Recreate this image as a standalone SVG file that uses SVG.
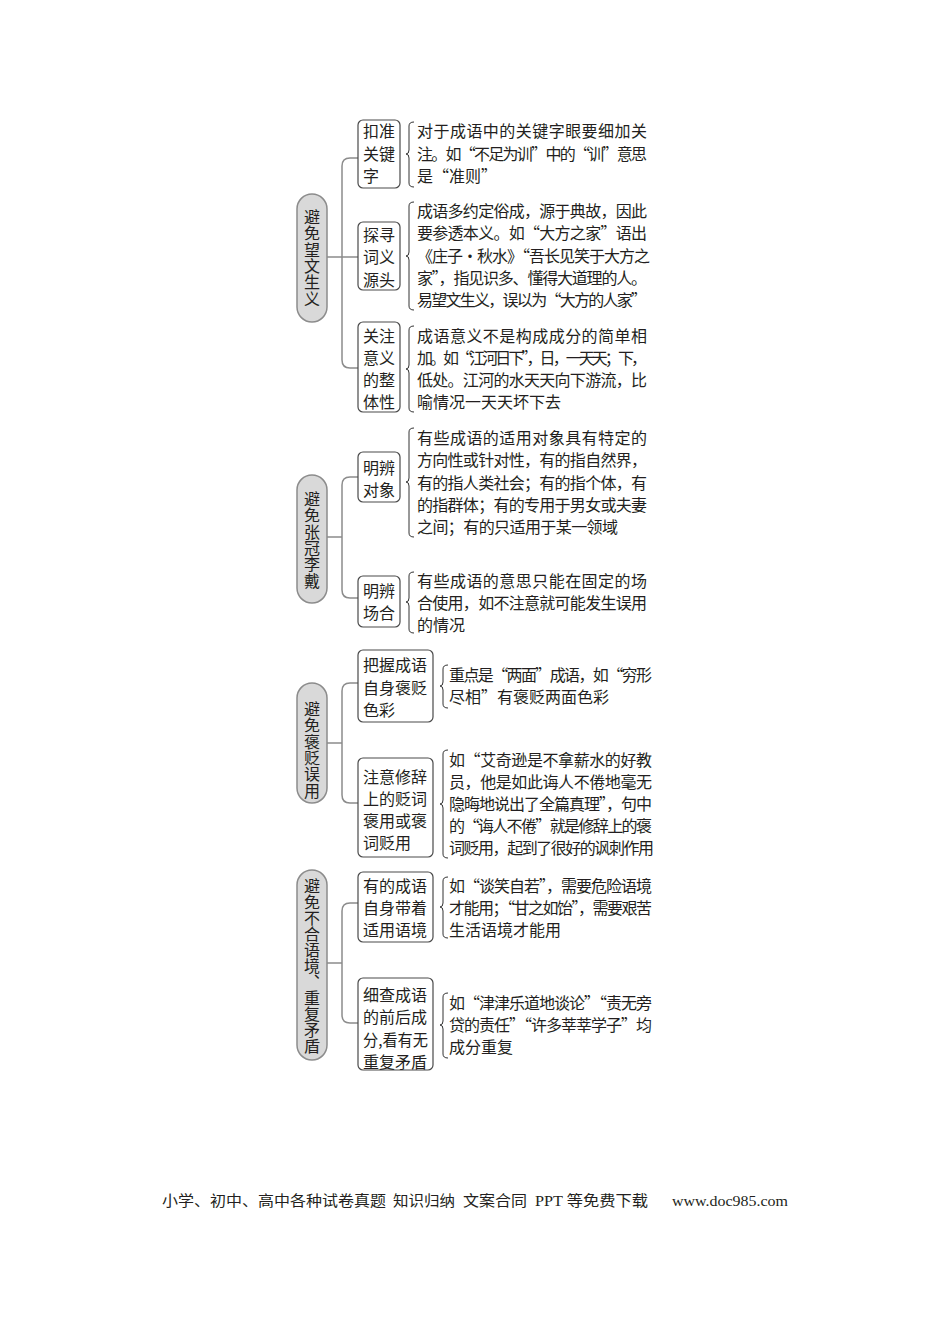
<svg xmlns="http://www.w3.org/2000/svg" width="950" height="1344" viewBox="0 0 950 1344">
<style>
.t{font-family:"Noto Sans CJK SC","Noto Sans",sans-serif;font-size:16px;fill:#231f20}
.pt{font-family:"Noto Sans CJK SC","Noto Sans",sans-serif;font-size:16px;fill:#231f20;writing-mode:vertical-rl;text-anchor:middle}
.pill{fill:#d9d9d9;stroke:#8c8c8c;stroke-width:1.5}
.box{fill:#fff;stroke:#4a4a4a;stroke-width:1.2}
.con{fill:none;stroke:#8c8c8c;stroke-width:1.5}
.br{fill:none;stroke:#333;stroke-width:1}
.ft{font-family:"Liberation Serif","Noto Sans CJK SC",serif;font-size:15px;fill:#231f20}
</style>
<rect width="950" height="1344" fill="#fff"/>
<g id="connectors">
<path class="con" d="M327,257 H342 M358,158 H350 Q342,158 342,166 V360 Q342,368 350,368 H358 M342,257 H358"/>
<path class="con" d="M327,537 H342 M358,477 H350 Q342,477 342,485 V590 Q342,598 350,598 H358"/>
<path class="con" d="M327,743 H342 M358,683 H350 Q342,683 342,691 V795 Q342,803 350,803 H358"/>
<path class="con" d="M327,963 H342 M358,903 H350 Q342,903 342,911 V1015 Q342,1023 350,1023 H358"/>
</g>
<g id="braces">
<path class="br" d="M414,122 Q409,122 409,126 L409,150 Q409,154 406,154 Q409,154 409,158 L409,183 Q409,187 414,187"/>
<path class="br" d="M414,202 Q409,202 409,206 L409,252 Q409,256 406,256 Q409,256 409,260 L409,306 Q409,310 414,310"/>
<path class="br" d="M414,326 Q409,326 409,330 L409,365 Q409,369 406,369 Q409,369 409,373 L409,408 Q409,412 414,412"/>
<path class="br" d="M414,428 Q409,428 409,432 L409,478 Q409,482 406,482 Q409,482 409,486 L409,533 Q409,537 414,537"/>
<path class="br" d="M414,572 Q409,572 409,576 L409,598 Q409,602 406,602 Q409,602 409,606 L409,629 Q409,633 414,633"/>
<path class="br" d="M448,665 Q443,665 443,669 L443,682 Q443,686 440,686 Q443,686 443,690 L443,704 Q443,708 448,708"/>
<path class="br" d="M448,750 Q443,750 443,754 L443,800 Q443,804 440,804 Q443,804 443,808 L443,854 Q443,858 448,858"/>
<path class="br" d="M448,877 Q443,877 443,881 L443,903 Q443,907 440,907 Q443,907 443,911 L443,934 Q443,938 448,938"/>
<path class="br" d="M448,993 Q443,993 443,997 L443,1021 Q443,1025 440,1025 Q443,1025 443,1029 L443,1054 Q443,1058 448,1058"/>
</g>
<g id="root1">
<rect class="pill" x="297" y="194" width="30" height="128" rx="15"/>
<text class="pt" x="312" y="258" letter-spacing="0.4">避免望文生义</text>
</g>
<g id="n1a">
<rect class="box" x="358" y="120" width="42" height="68" rx="5"/>
<text class="t" x="363" y="137">扣准</text><text class="t" x="363" y="160">关键</text><text class="t" x="363" y="182">字</text>
<text class="t" x="417" y="137" textLength="230" lengthAdjust="spacing">对于成语中的关键字眼要细加关</text>
<text class="t" x="417" y="160" textLength="230" lengthAdjust="spacing">注。如“不足为训”中的“训”意思</text>
<text class="t" x="417" y="182">是“准则”</text>
</g>
<g id="n1b">
<rect class="box" x="358" y="222" width="42" height="68" rx="5"/>
<text class="t" x="363" y="241">探寻</text><text class="t" x="363" y="263">词义</text><text class="t" x="363" y="286">源头</text>
<text class="t" x="417" y="217" textLength="230" lengthAdjust="spacing">成语多约定俗成，源于典故，因此</text>
<text class="t" x="417" y="239" textLength="230" lengthAdjust="spacing">要参透本义。如“大方之家”语出</text>
<text class="t" x="417" y="262" textLength="233" lengthAdjust="spacing">《庄子·秋水》“吾长见笑于大方之</text>
<text class="t" x="417" y="284" textLength="230" lengthAdjust="spacing">家”，指见识多、懂得大道理的人。</text>
<text class="t" x="417" y="306" textLength="230" lengthAdjust="spacing">易望文生义，误以为“大方的人家”</text>
</g>
<g id="n1c">
<rect class="box" x="358" y="322" width="42" height="90" rx="5"/>
<text class="t" x="363" y="342">关注</text><text class="t" x="363" y="364">意义</text><text class="t" x="363" y="386">的整</text><text class="t" x="363" y="408">体性</text>
<text class="t" x="417" y="342" textLength="230" lengthAdjust="spacing">成语意义不是构成成分的简单相</text>
<text class="t" x="417" y="364" textLength="230" lengthAdjust="spacing">加。如“江河日下”，日，一天天；下，</text>
<text class="t" x="417" y="386" textLength="230" lengthAdjust="spacing">低处。江河的水天天向下游流，比</text>
<text class="t" x="417" y="408">喻情况一天天坏下去</text>
</g>
<g id="root2">
<rect class="pill" x="297" y="475" width="30" height="128" rx="15"/>
<text class="pt" x="312" y="540" letter-spacing="0.4">避免张冠李戴</text>
</g>
<g id="n2a">
<rect class="box" x="358" y="452" width="42" height="50" rx="5"/>
<text class="t" x="363" y="474">明辨</text><text class="t" x="363" y="496">对象</text>
<text class="t" x="417" y="444" textLength="230" lengthAdjust="spacing">有些成语的适用对象具有特定的</text>
<text class="t" x="417" y="466" textLength="230" lengthAdjust="spacing">方向性或针对性，有的指自然界，</text>
<text class="t" x="417" y="489" textLength="230" lengthAdjust="spacing">有的指人类社会；有的指个体，有</text>
<text class="t" x="417" y="511" textLength="230" lengthAdjust="spacing">的指群体；有的专用于男女或夫妻</text>
<text class="t" x="417" y="533" textLength="201" lengthAdjust="spacing">之间；有的只适用于某一领域</text>
</g>
<g id="n2b">
<rect class="box" x="358" y="576" width="42" height="51" rx="5"/>
<text class="t" x="363" y="597">明辨</text><text class="t" x="363" y="619">场合</text>
<text class="t" x="417" y="587" textLength="230" lengthAdjust="spacing">有些成语的意思只能在固定的场</text>
<text class="t" x="417" y="609" textLength="230" lengthAdjust="spacing">合使用，如不注意就可能发生误用</text>
<text class="t" x="417" y="631">的情况</text>
</g>
<g id="root3">
<rect class="pill" x="297" y="683" width="30" height="120" rx="15"/>
<text class="pt" x="312" y="750" letter-spacing="0.4">避免褒贬误用</text>
</g>
<g id="n3a">
<rect class="box" x="358" y="650" width="75" height="72" rx="5"/>
<text class="t" x="363" y="671">把握成语</text><text class="t" x="363" y="694">自身褒贬</text><text class="t" x="363" y="716">色彩</text>
<text class="t" x="449" y="681" textLength="203" lengthAdjust="spacing">重点是“两面”成语，如“穷形</text>
<text class="t" x="449" y="703">尽相”有褒贬两面色彩</text>
</g>
<g id="n3b">
<rect class="box" x="358" y="758" width="75" height="99" rx="5"/>
<text class="t" x="363" y="783">注意修辞</text><text class="t" x="363" y="805">上的贬词</text><text class="t" x="363" y="827">褒用或褒</text><text class="t" x="363" y="849">词贬用</text>
<text class="t" x="449" y="766" textLength="203" lengthAdjust="spacing">如“艾奇逊是不拿薪水的好教</text>
<text class="t" x="449" y="788" textLength="203" lengthAdjust="spacing">员，他是如此诲人不倦地毫无</text>
<text class="t" x="449" y="810" textLength="203" lengthAdjust="spacing">隐晦地说出了全篇真理”，句中</text>
<text class="t" x="449" y="832" textLength="203" lengthAdjust="spacing">的“诲人不倦”就是修辞上的褒</text>
<text class="t" x="449" y="854" textLength="205" lengthAdjust="spacing">词贬用，起到了很好的讽刺作用</text>
</g>
<g id="root4">
<rect class="pill" x="297" y="870" width="30" height="190" rx="15"/>
<text class="pt" x="312" y="966" letter-spacing="0">避免不合语境、重复矛盾</text>
</g>
<g id="n4a">
<rect class="box" x="358" y="872" width="75" height="70" rx="5"/>
<text class="t" x="363" y="892">有的成语</text><text class="t" x="363" y="914">自身带着</text><text class="t" x="363" y="936">适用语境</text>
<text class="t" x="449" y="892" textLength="203" lengthAdjust="spacing">如“谈笑自若”，需要危险语境</text>
<text class="t" x="449" y="914" textLength="203" lengthAdjust="spacing">才能用；“甘之如饴”，需要艰苦</text>
<text class="t" x="449" y="936">生活语境才能用</text>
</g>
<g id="n4b">
<rect class="box" x="358" y="978" width="75" height="92" rx="5"/>
<text class="t" x="363" y="1001">细查成语</text><text class="t" x="363" y="1023">的前后成</text><text class="t" x="363" y="1046" textLength="65" lengthAdjust="spacingAndGlyphs">分,看有无</text><text class="t" x="363" y="1068">重复矛盾</text>
<text class="t" x="449" y="1009" textLength="203" lengthAdjust="spacing">如“津津乐道地谈论”“责无旁</text>
<text class="t" x="449" y="1031" textLength="203" lengthAdjust="spacing">贷的责任”“许多莘莘学子”均</text>
<text class="t" x="449" y="1053">成分重复</text>
</g>
<g id="footer">
<text class="ft" x="162" y="1206" textLength="224" lengthAdjust="spacingAndGlyphs">小学、初中、高中各种试卷真题</text>
<text class="ft" x="393" y="1206" textLength="62" lengthAdjust="spacingAndGlyphs">知识归纳</text>
<text class="ft" x="463" y="1206" textLength="64" lengthAdjust="spacingAndGlyphs">文案合同</text>
<text class="ft" x="535" y="1206" textLength="113" lengthAdjust="spacingAndGlyphs">PPT 等免费下载</text>
<text class="ft" x="672" y="1206" textLength="116" lengthAdjust="spacingAndGlyphs">www.doc985.com</text>
</g>
</svg>
